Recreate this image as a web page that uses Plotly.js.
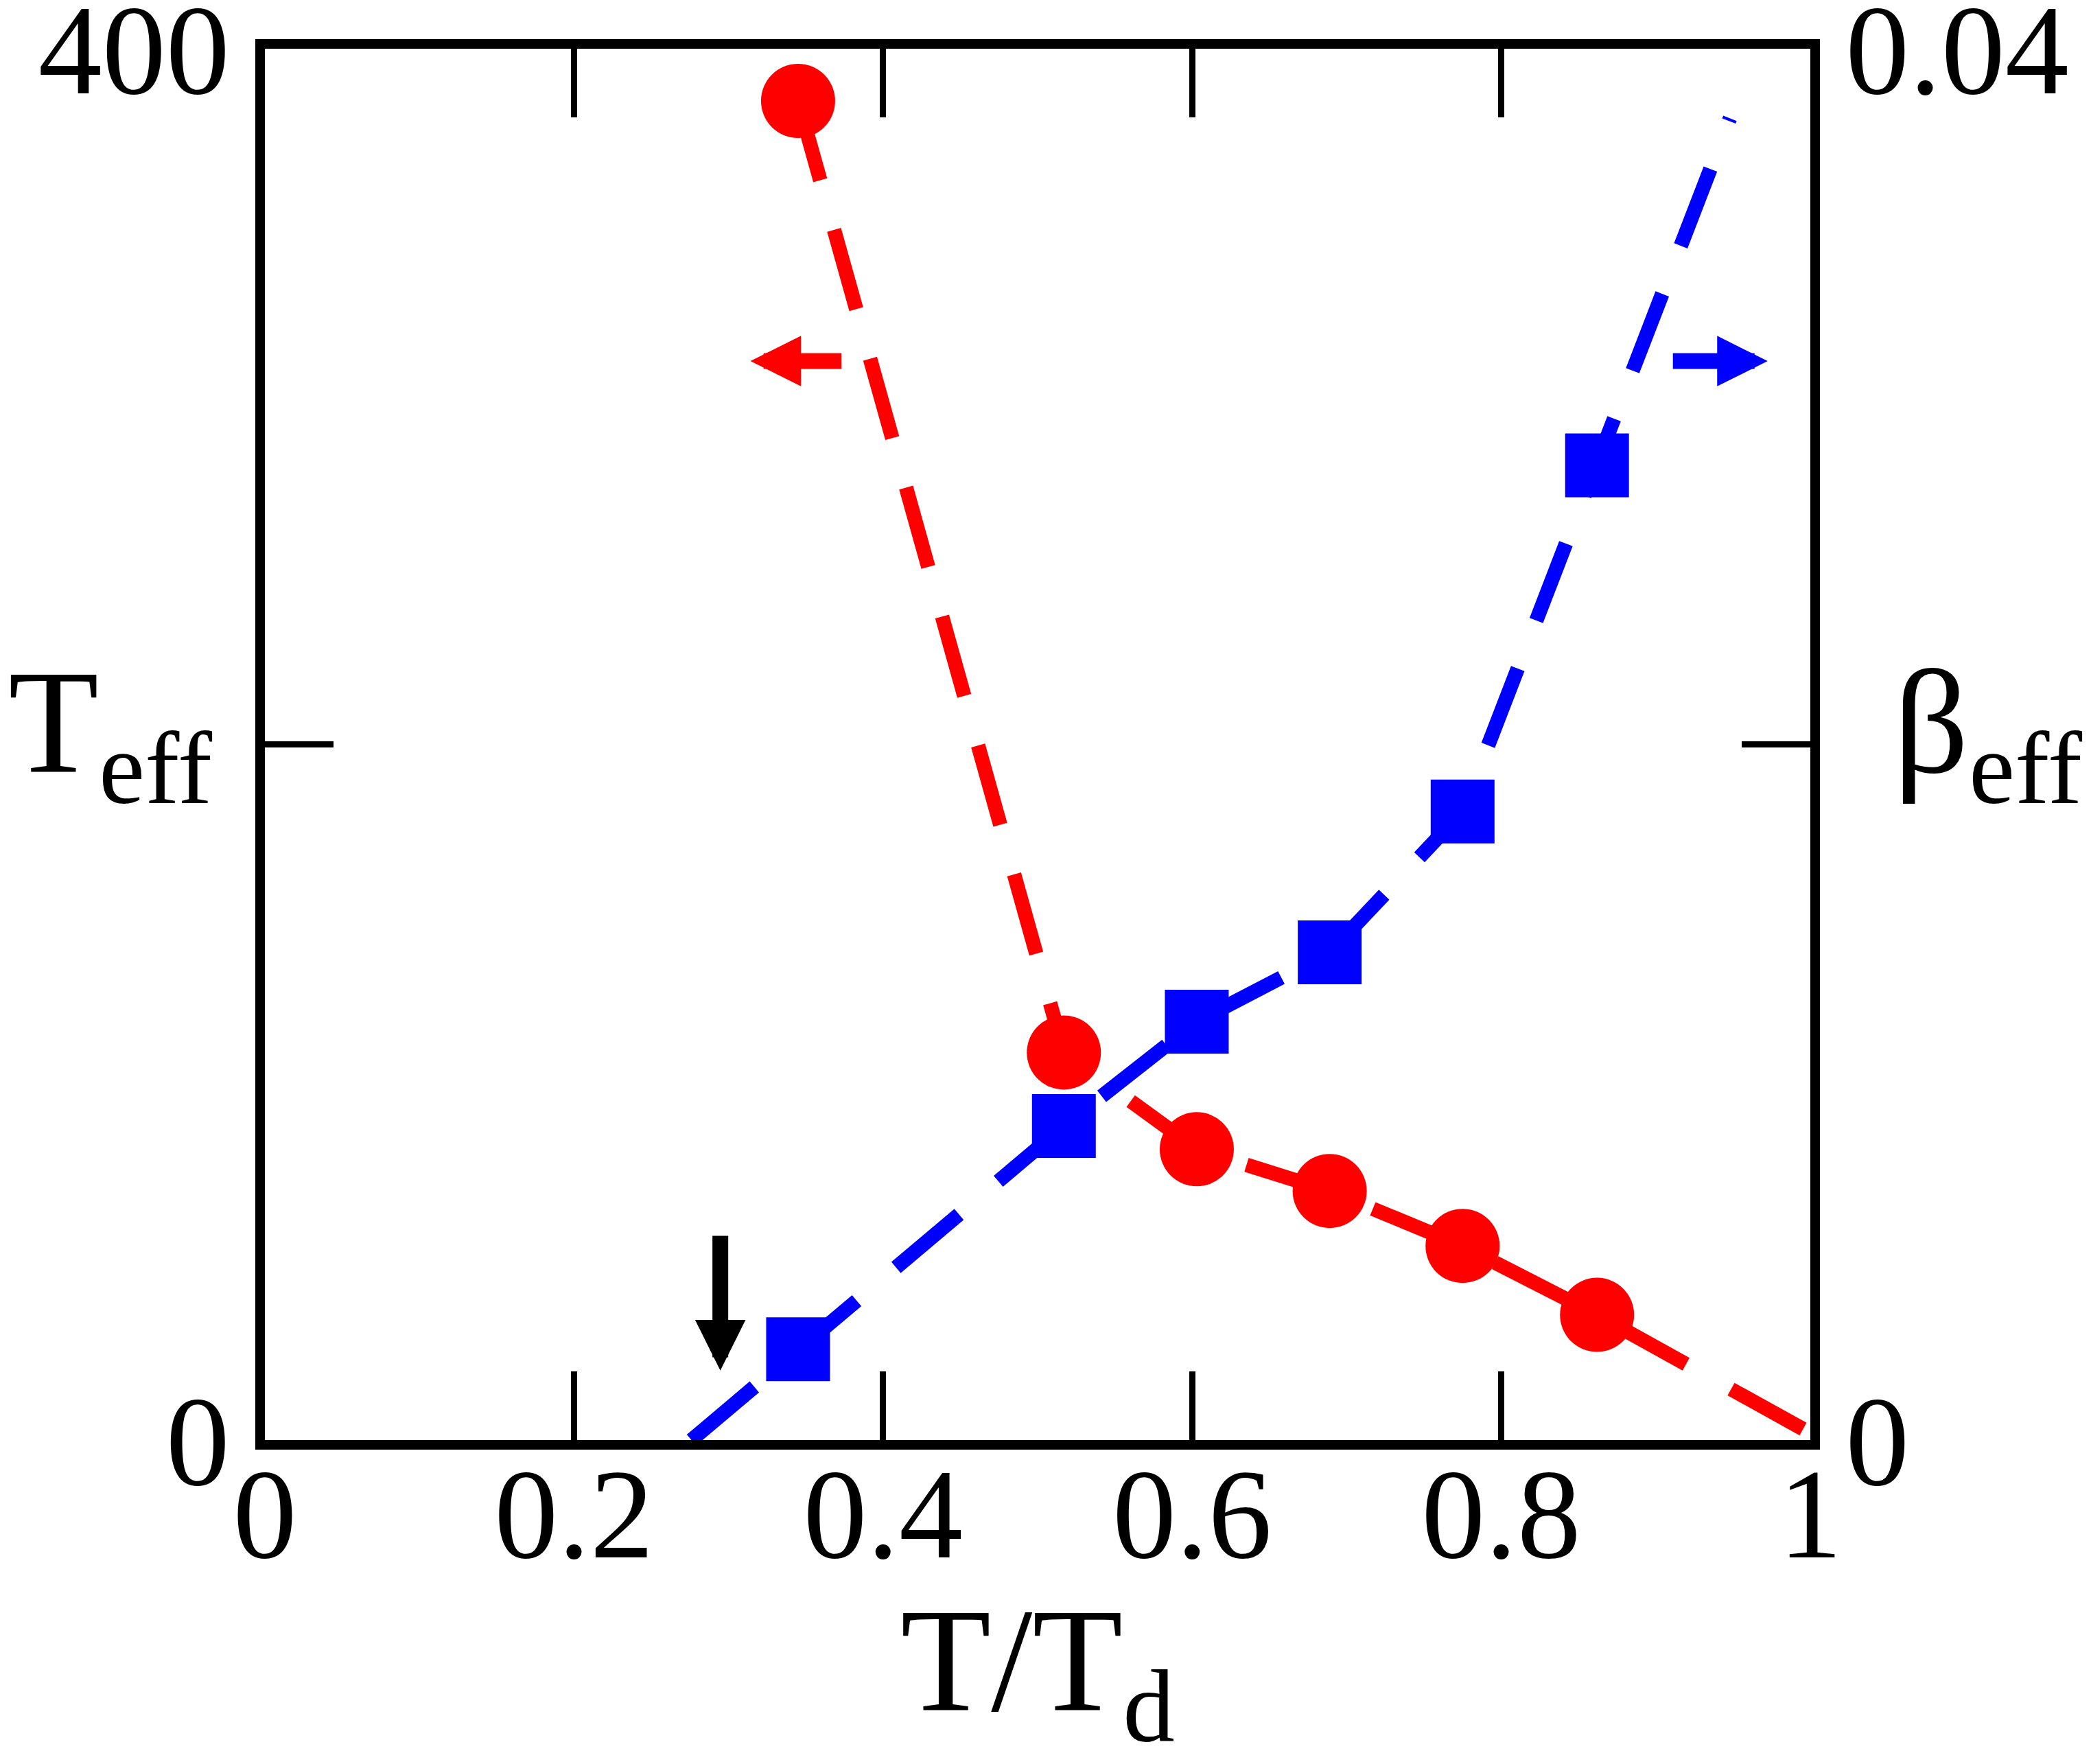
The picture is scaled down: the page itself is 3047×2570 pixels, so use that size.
<!DOCTYPE html>
<html>
<head>
<meta charset="utf-8">
<script src="https://cdn.plot.ly/plotly-3.0.1.min.js"></script>
<style>
  html, body { margin: 0; padding: 0; background: #fff; }
  #chart { width: 3047px; height: 2570px; }
</style>
</head>
<body>
<div id="chart"></div>
<script>
// measured points, T/Td
const tRatio = [0.345, 0.517, 0.603, 0.689, 0.775, 0.862];
const tEff = [385, 111.4, 83.6, 71.6, 55.8, 36.0];
const betaEff = [0.00261, 0.00903, 0.01203, 0.01402, 0.01807, 0.02802];

// dashed guide lines (data points plus the end points of each line)
const tEffLineX = [0.345, 0.517, 0.603, 0.689, 0.775, 0.862, 1.0];
const tEffLineY = [385, 111.4, 83.6, 71.6, 55.8, 36.0, 2];
const betaLineX = [0.276, 0.345, 0.517, 0.603, 0.689, 0.775, 0.862, 0.948];
const betaLineY = [0, 0.00261, 0.00903, 0.01203, 0.01402, 0.01807, 0.02802, 0.0380];

const xTicks = [0, 0.2, 0.4, 0.6, 0.8, 1];
const xTickText = ['0', '0.2', '0.4', '0.6', '0.8', '1'];
const tTicks = [0, 200, 400];
const tTickText = ['0', '', '400'];
const betaTicks = [0, 0.02, 0.04];
const betaTickText = ['0', '', '0.04'];

const RED = '#ff0000';
const BLUE = '#0000ff';
const FONT = 'Liberation Serif, Times New Roman, serif';

const traces = [
  {
    x: tEffLineX, y: tEffLineY, mode: 'lines', yaxis: 'y',
    line: { color: RED, width: 21, dash: '120px,75px' },
    hoverinfo: 'skip',
  },
  {
    x: betaLineX, y: betaLineY, mode: 'lines', yaxis: 'y2',
    line: { color: BLUE, width: 21, dash: '120px,75px' },
    hoverinfo: 'skip',
  },
  {
    x: tRatio, y: tEff, mode: 'markers', yaxis: 'y',
    marker: { symbol: 'circle', size: 108, color: RED },
  },
  {
    x: tRatio, y: betaEff, mode: 'markers', yaxis: 'y2',
    marker: { symbol: 'square', size: 93, color: BLUE },
  },
];

const axisCommon = {
  showline: true,
  linecolor: '#000',
  linewidth: 14,
  ticks: 'inside',
  ticklen: 100,
  tickwidth: 9,
  tickcolor: '#000',
  showgrid: false,
  zeroline: false,
  tickfont: { family: FONT, size: 186, color: '#000' },
  tickmode: 'array',
  ticklabeloverflow: 'allow',
};

function arrow(x, y, ax, ay, color) {
  return {
    x: x, y: y, ax: ax, ay: ay,
    xref: 'x', yref: 'y', axref: 'x', ayref: 'y',
    text: '', showarrow: true,
    arrowhead: 2, arrowsize: 0.64, arrowwidth: 23, arrowcolor: color,
    standoff: 0, startstandoff: 0,
  };
}

const layout = {
  width: 3047,
  height: 2570,
  margin: { l: 386, r: 409, t: 71, b: 472 },
  paper_bgcolor: '#fff',
  plot_bgcolor: '#fff',
  showlegend: false,
  font: { family: FONT, color: '#000' },
  xaxis: Object.assign({}, axisCommon, {
    range: [0, 1],
    tickvals: xTicks,
    ticktext: xTickText,
    mirror: 'ticks',
    ticklabelstandoff: -66,
    title: {
      text: 'T/T<sub>d</sub>',
      font: { family: FONT, size: 216, color: '#000' },
      standoff: 96,
    },
  }),
  yaxis: Object.assign({}, axisCommon, {
    range: [0, 400],
    tickvals: tTicks,
    ticktext: tTickText,
  }),
  yaxis2: Object.assign({}, axisCommon, {
    range: [0, 0.04],
    tickvals: betaTicks,
    ticktext: betaTickText,
    overlaying: 'y',
    side: 'right',
  }),
  annotations: [
    {
      text: 'T<sub>eff</sub>', xref: 'paper', yref: 'paper',
      x: -0.100, y: 0.508, xanchor: 'center', yanchor: 'middle',
      showarrow: false, font: { family: FONT, size: 216, color: '#000' },
    },
    {
      text: 'β<sub>eff</sub>', xref: 'paper', yref: 'paper',
      x: 1.115, y: 0.508, xanchor: 'center', yanchor: 'middle',
      showarrow: false, font: { family: FONT, size: 216, color: '#000' },
    },
    arrow(0.3142, 310.2, 0.3738, 310.2, RED),
    arrow(0.9724, 310.2, 0.9104, 310.2, BLUE),
    arrow(0.2947, 20.0, 0.2947, 59.0, '#000'),
  ],
};

Plotly.newPlot('chart', traces, layout, { staticPlot: true });
</script>
</body>
</html>
